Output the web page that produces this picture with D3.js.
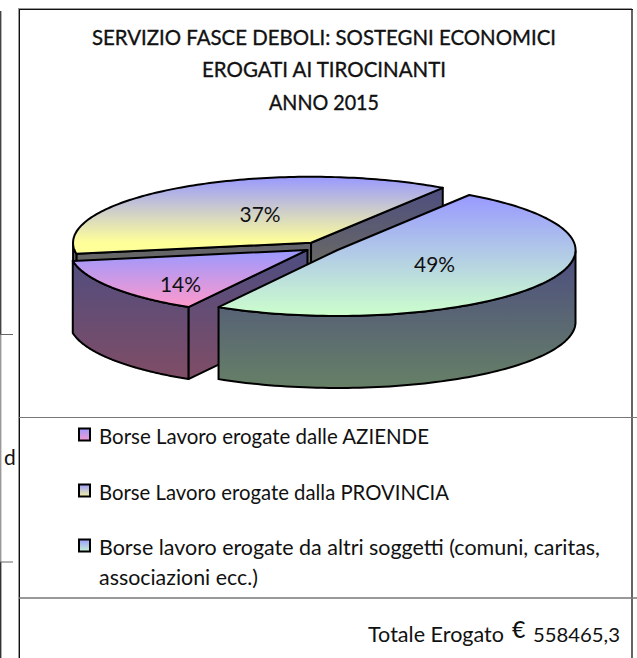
<!DOCTYPE html>
<html><head><meta charset="utf-8">
<script src="https://cdn.jsdelivr.net/npm/d3@7/dist/d3.min.js"></script>
<style>html,body{margin:0;padding:0;background:#fff}svg{display:block}text{font-family:Lato,"Noto Sans",sans-serif;fill:#111}</style>
</head><body><svg id="c" width="637" height="658"></svg>
<script>
const titleLines = ["SERVIZIO FASCE DEBOLI: SOSTEGNI ECONOMICI","EROGATI AI TIROCINANTI","ANNO 2015"];
const categories = ["Borse Lavoro erogate dalle AZIENDE","Borse Lavoro erogate dalla PROVINCIA","Borse lavoro erogate da altri soggetti (comuni, caritas,"];
const categoryContinuation = "associazioni ecc.)";
const shares = [14,37,49];
const shareLabels = ["14%","37%","49%"];
const totalLabel = "Totale Erogato";
const currency = "€";
const totalValue = "558465,3";

const topBottomColor = ["#ff99cc","#ffff99","#ccffcc"];
const sideBottomColor = ["#804d66","#80804d","#668066"];
const blueTop = "#9999ff", blueSide = "#4d4d80";

const svg = d3.select("#c");
const cx0=321.4, cy0=247.2, rx=238, ry=66, depth=72;
const explode=[17,19,19];
const x = d3.scaleLinear().domain([-1,1]).range([cx0-rx,cx0+rx]);
const y = d3.scaleLinear().domain([-1,1]).range([cy0-ry,cy0+ry]);
const line = d3.line().x(d=>d[0]).y(d=>d[1]);
const pie = d3.pie().sort(null).startAngle(210*Math.PI/180).endAngle((210+360)*Math.PI/180);
const arcs = pie(shares);

// frame
const frame = svg.append("g");
const rule=(x1,y1,x2,y2,c,w)=>frame.append("line").attr("x1",x1).attr("y1",y1).attr("x2",x2).attr("y2",y2).attr("stroke",c).attr("stroke-width",w);
rule(18,8.5,632,8.5,"#999",1);
rule(18.5,8,18.5,658,"#999",1);
rule(19,9.5,633,9.5,"#111",1);
rule(19.5,9,19.5,658,"#111",1);
rule(632,9,632,658,"#111",1.3);
rule(19,417.5,637,417.5,"#777",1);
rule(19,598,637,598,"#777",1.5);
rule(.7,11,.7,334,"#444",1.4);
rule(.7,334,.7,562,"#999",1.4);
rule(.7,562,.7,658,"#333",1.4);
rule(0,334.5,13,334.5,"#666",1);
rule(0,562,13,562,"#666",1);
svg.append("text").attr("x",4).attr("y",465).attr("font-size",21).text("d");

// title
const titleWidths=[464,244,110];
svg.append("g").selectAll("text").data(titleLines).join("text")
  .attr("x",324).attr("y",(d,i)=>[45,77,110][i]).attr("text-anchor","middle")
  .attr("textLength",(d,i)=>titleWidths[i]).attr("lengthAdjust","spacingAndGlyphs")
  .attr("font-size",21).attr("stroke","#111").attr("stroke-width",.35).text(d=>d);

const defs = svg.append("defs");
function grad(id,y1,y2,c1,c2){
  const g=defs.append("linearGradient").attr("id",id).attr("gradientUnits","userSpaceOnUse")
   .attr("x1",0).attr("x2",0).attr("y1",y1).attr("y2",y2);
  g.append("stop").attr("offset",0).attr("stop-color",c1);
  g.append("stop").attr("offset",1).attr("stop-color",c2);
}
const pt=(t,ox,oy,dz=0)=>[x(Math.sin(t))+ox, y(-Math.cos(t))+oy+dz];
function poly(g,pts,fill){
  g.append("path").attr("d",line(pts)+"Z").attr("fill",fill)
   .attr("stroke","#000").attr("stroke-width",2).attr("stroke-linejoin","round");
}
const labelOffset=[[-127,34],[-51,-29],[97,14]];
const order=[1,0,2];
const layer=svg.append("g");
order.forEach(i=>{
  const a=arcs[i], g=layer.append("g");
  const mid=(a.startAngle+a.endAngle)/2;
  const ox=x(Math.sin(mid)*explode[i]/rx)-x(0), oy=y(-Math.cos(mid)*explode[i]/rx)-y(0);
  const ax=cx0+ox, ay=cy0+oy;
  const samples=d3.range(0,121).map(k=>a.startAngle+(a.endAngle-a.startAngle)*k/120);
  const topPts=samples.map(t=>pt(t,ox,oy));
  const apex=[ax,ay], apexD=[ax,ay+depth];
  const sides=[];
  if(Math.sin(a.startAngle)<0) sides.push([apex,pt(a.startAngle,ox,oy),pt(a.startAngle,ox,oy,depth),apexD]);
  if(Math.sin(a.endAngle)>0) sides.push([apex,pt(a.endAngle,ox,oy),pt(a.endAngle,ox,oy,depth),apexD]);
  const vis=samples.filter(t=>Math.cos(t)<=0);
  if(vis.length) sides.push(vis.map(t=>pt(t,ox,oy)).concat(vis.slice().reverse().map(t=>pt(t,ox,oy,depth))));
  const ys=topPts.map(p=>p[1]).concat(ay);
  const sy=sides.flat().map(p=>p[1]);
  grad("t"+i,d3.min(ys),i===1?ay:d3.max(ys),blueTop,topBottomColor[i]);
  grad("s"+i,d3.min(sy),d3.max(sy),blueSide,sideBottomColor[i]);
  sides.forEach(s=>poly(g,s,`url(#s${i})`));
  poly(g,[apex].concat(topPts),`url(#t${i})`);
  g.append("text").attr("x",ax+labelOffset[i][0]).attr("y",ay+labelOffset[i][1]+8)
    .attr("text-anchor","middle").attr("font-size",21)
    .attr("textLength",41).attr("lengthAdjust","spacingAndGlyphs").text(shareLabels[i]);
});

// legend
const legendY=[435,491,546];
const legendWidths=[330,350,501];
const lg=svg.append("g");
categories.forEach((c,i)=>{
  grad("l"+i,legendY[i]-7,legendY[i]+7,blueTop,topBottomColor[i]);
  lg.append("rect").attr("x",79).attr("y",legendY[i]-6.5).attr("width",11).attr("height",12)
    .attr("fill",`url(#l${i})`).attr("stroke","#000").attr("stroke-width",2);
  lg.append("text").attr("x",99).attr("y",legendY[i]+9).attr("font-size",21)
    .attr("textLength",legendWidths[i]).attr("lengthAdjust","spacingAndGlyphs").text(c);
});
lg.append("text").attr("x",99).attr("y",585).attr("font-size",21)
  .attr("textLength",159).attr("lengthAdjust","spacingAndGlyphs").text(categoryContinuation);

svg.append("text").attr("x",368).attr("y",642).attr("font-size",21)
  .attr("textLength",136).attr("lengthAdjust","spacingAndGlyphs").text(totalLabel);
svg.append("text").attr("x",512).attr("y",638).attr("font-size",23).attr("font-weight",500).text(currency);
svg.append("text").attr("x",533).attr("y",642).attr("font-size",20)
  .attr("textLength",87).attr("lengthAdjust","spacingAndGlyphs").text(totalValue);
</script></body></html>
